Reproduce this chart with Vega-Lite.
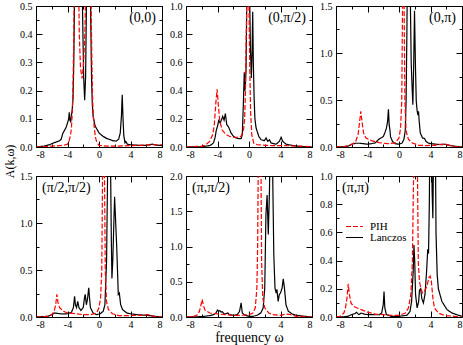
{
  "$schema": "https://vega.github.io/schema/vega-lite/v6.json",
  "background": "white",
  "padding": {"left": 2, "top": 0, "right": 1, "bottom": 0},
  "config": {
    "axis": {"domain": false, "grid": false, "tickColor": "#000", "labelColor": "#000", "labelFont": "Liberation Serif", "labelFontSize": 10, "titleFont": "Liberation Serif", "titleFontSize": 14, "titleFontWeight": "normal", "titleColor": "#000"},
    "axisX": {"labelPadding": 8},
    "axisY": {"labelPadding": 10},
    "view": {"stroke": "#000", "strokeWidth": 1},
    "title": {"font": "Liberation Serif", "fontSize": 14, "fontWeight": "normal", "color": "#000"},
    "legend": {"labelFont": "Liberation Serif", "labelFontSize": 11, "labelColor": "#000"}
  },
  "datasets": {
    "curves": [
      {"p":1,"s":"L","w":-8,"a":0},{"p":1,"s":"L","w":-7,"a":0.003},{"p":1,"s":"L","w":-6.3,"a":0.008},{"p":1,"s":"L","w":-5.9,"a":0.013},{"p":1,"s":"L","w":-5.4,"a":0.018},{"p":1,"s":"L","w":-5.0,"a":0.022},{"p":1,"s":"L","w":-4.8,"a":0.028},{"p":1,"s":"L","w":-4.6,"a":0.048},{"p":1,"s":"L","w":-4.4,"a":0.058},{"p":1,"s":"L","w":-4.2,"a":0.068},{"p":1,"s":"L","w":-4.0,"a":0.085},{"p":1,"s":"L","w":-3.85,"a":0.1},{"p":1,"s":"L","w":-3.78,"a":0.123},{"p":1,"s":"L","w":-3.7,"a":0.095},{"p":1,"s":"L","w":-3.6,"a":0.09},{"p":1,"s":"L","w":-3.5,"a":0.115},{"p":1,"s":"L","w":-3.42,"a":0.125},{"p":1,"s":"L","w":-3.3,"a":0.17},{"p":1,"s":"L","w":-3.2,"a":0.3},{"p":1,"s":"L","w":-3.1,"a":0.55},{"p":1,"s":"L","w":-2.9,"a":1.5},{"p":1,"s":"L","w":-2.6,"a":2.0},{"p":1,"s":"L","w":-2.3,"a":1.0},{"p":1,"s":"L","w":-2.1,"a":0.5},{"p":1,"s":"L","w":-1.95,"a":0.25},{"p":1,"s":"L","w":-1.82,"a":0.166},{"p":1,"s":"L","w":-1.7,"a":0.25},{"p":1,"s":"L","w":-1.6,"a":0.5},{"p":1,"s":"L","w":-1.45,"a":1.5},{"p":1,"s":"L","w":-1.3,"a":2.0},{"p":1,"s":"L","w":-1.15,"a":0.8},{"p":1,"s":"L","w":-1.05,"a":0.45},{"p":1,"s":"L","w":-0.95,"a":0.25},{"p":1,"s":"L","w":-0.85,"a":0.15},{"p":1,"s":"L","w":-0.75,"a":0.11},{"p":1,"s":"L","w":-0.5,"a":0.075},{"p":1,"s":"L","w":-0.3,"a":0.065},{"p":1,"s":"L","w":0,"a":0.05},{"p":1,"s":"L","w":0.5,"a":0.038},{"p":1,"s":"L","w":1.0,"a":0.03},{"p":1,"s":"L","w":1.4,"a":0.026},{"p":1,"s":"L","w":1.8,"a":0.022},{"p":1,"s":"L","w":2.2,"a":0.021},{"p":1,"s":"L","w":2.5,"a":0.028},{"p":1,"s":"L","w":2.7,"a":0.05},{"p":1,"s":"L","w":2.85,"a":0.11},{"p":1,"s":"L","w":2.95,"a":0.185},{"p":1,"s":"L","w":3.05,"a":0.1},{"p":1,"s":"L","w":3.15,"a":0.04},{"p":1,"s":"L","w":3.3,"a":0.015},{"p":1,"s":"L","w":3.4,"a":0.02},{"p":1,"s":"L","w":3.6,"a":0.01},{"p":1,"s":"L","w":4,"a":0.008},{"p":1,"s":"L","w":5,"a":0.006},{"p":1,"s":"L","w":6,"a":0.006},{"p":1,"s":"L","w":6.8,"a":0.01},{"p":1,"s":"L","w":7.2,"a":0.007},{"p":1,"s":"L","w":8,"a":0.005},
      {"p":1,"s":"P","w":-8,"a":0},{"p":1,"s":"P","w":-6,"a":0.003},{"p":1,"s":"P","w":-5,"a":0.005},{"p":1,"s":"P","w":-4.5,"a":0.006},{"p":1,"s":"P","w":-4,"a":0.01},{"p":1,"s":"P","w":-3.8,"a":0.02},{"p":1,"s":"P","w":-3.6,"a":0.045},{"p":1,"s":"P","w":-3.5,"a":0.068},{"p":1,"s":"P","w":-3.4,"a":0.12},{"p":1,"s":"P","w":-3.3,"a":0.22},{"p":1,"s":"P","w":-3.2,"a":0.4},{"p":1,"s":"P","w":-3.1,"a":0.7},{"p":1,"s":"P","w":-2.9,"a":1.5},{"p":1,"s":"P","w":-2.75,"a":1.2},{"p":1,"s":"P","w":-2.6,"a":0.6},{"p":1,"s":"P","w":-2.5,"a":0.4},{"p":1,"s":"P","w":-2.35,"a":0.28},{"p":1,"s":"P","w":-2.15,"a":0.243},{"p":1,"s":"P","w":-1.95,"a":0.3},{"p":1,"s":"P","w":-1.8,"a":0.4},{"p":1,"s":"P","w":-1.65,"a":0.6},{"p":1,"s":"P","w":-1.45,"a":1.2},{"p":1,"s":"P","w":-1.3,"a":1.5},{"p":1,"s":"P","w":-1.15,"a":0.9},{"p":1,"s":"P","w":-1.0,"a":0.5},{"p":1,"s":"P","w":-0.9,"a":0.3},{"p":1,"s":"P","w":-0.8,"a":0.16},{"p":1,"s":"P","w":-0.7,"a":0.1},{"p":1,"s":"P","w":-0.6,"a":0.068},{"p":1,"s":"P","w":-0.45,"a":0.035},{"p":1,"s":"P","w":-0.3,"a":0.018},{"p":1,"s":"P","w":0,"a":0.006},{"p":1,"s":"P","w":1,"a":0.003},{"p":1,"s":"P","w":2,"a":0.003},{"p":1,"s":"P","w":3,"a":0.004},{"p":1,"s":"P","w":4,"a":0.005},{"p":1,"s":"P","w":5,"a":0.006},{"p":1,"s":"P","w":6,"a":0.007},{"p":1,"s":"P","w":7,"a":0.008},{"p":1,"s":"P","w":8,"a":0.008},
      {"p":2,"s":"L","w":-8,"a":0},{"p":2,"s":"L","w":-6,"a":0.002},{"p":2,"s":"L","w":-5,"a":0.01},{"p":2,"s":"L","w":-4.7,"a":0.02},{"p":2,"s":"L","w":-4.5,"a":0.03},{"p":2,"s":"L","w":-4.3,"a":0.07},{"p":2,"s":"L","w":-4.15,"a":0.12},{"p":2,"s":"L","w":-4.0,"a":0.147},{"p":2,"s":"L","w":-3.85,"a":0.187},{"p":2,"s":"L","w":-3.65,"a":0.17},{"p":2,"s":"L","w":-3.45,"a":0.2},{"p":2,"s":"L","w":-3.34,"a":0.218},{"p":2,"s":"L","w":-3.17,"a":0.19},{"p":2,"s":"L","w":-3.0,"a":0.237},{"p":2,"s":"L","w":-2.83,"a":0.16},{"p":2,"s":"L","w":-2.58,"a":0.14},{"p":2,"s":"L","w":-2.28,"a":0.1},{"p":2,"s":"L","w":-1.98,"a":0.076},{"p":2,"s":"L","w":-1.64,"a":0.064},{"p":2,"s":"L","w":-1.3,"a":0.06},{"p":2,"s":"L","w":-1.0,"a":0.06},{"p":2,"s":"L","w":-0.85,"a":0.088},{"p":2,"s":"L","w":-0.72,"a":0.3},{"p":2,"s":"L","w":-0.67,"a":0.4},{"p":2,"s":"L","w":-0.6,"a":0.53},{"p":2,"s":"L","w":-0.52,"a":0.4},{"p":2,"s":"L","w":-0.45,"a":0.45},{"p":2,"s":"L","w":-0.37,"a":0.56},{"p":2,"s":"L","w":-0.25,"a":1.2},{"p":2,"s":"L","w":-0.1,"a":1.8},{"p":2,"s":"L","w":0.05,"a":1.2},{"p":2,"s":"L","w":0.18,"a":0.7},{"p":2,"s":"L","w":0.3,"a":0.49},{"p":2,"s":"L","w":0.4,"a":0.7},{"p":2,"s":"L","w":0.47,"a":0.96},{"p":2,"s":"L","w":0.55,"a":0.6},{"p":2,"s":"L","w":0.65,"a":0.35},{"p":2,"s":"L","w":0.75,"a":0.2},{"p":2,"s":"L","w":0.9,"a":0.135},{"p":2,"s":"L","w":1.24,"a":0.076},{"p":2,"s":"L","w":1.53,"a":0.052},{"p":2,"s":"L","w":1.96,"a":0.045},{"p":2,"s":"L","w":2.17,"a":0.064},{"p":2,"s":"L","w":2.38,"a":0.04},{"p":2,"s":"L","w":2.6,"a":0.052},{"p":2,"s":"L","w":2.8,"a":0.028},{"p":2,"s":"L","w":3.44,"a":0.02},{"p":2,"s":"L","w":3.86,"a":0.04},{"p":2,"s":"L","w":4.08,"a":0.069},{"p":2,"s":"L","w":4.29,"a":0.04},{"p":2,"s":"L","w":4.7,"a":0.02},{"p":2,"s":"L","w":5.56,"a":0.01},{"p":2,"s":"L","w":6.4,"a":0.005},{"p":2,"s":"L","w":8,"a":0},
      {"p":2,"s":"P","w":-8,"a":0},{"p":2,"s":"P","w":-6,"a":0.005},{"p":2,"s":"P","w":-5.5,"a":0.015},{"p":2,"s":"P","w":-5,"a":0.04},{"p":2,"s":"P","w":-4.6,"a":0.088},{"p":2,"s":"P","w":-4.4,"a":0.16},{"p":2,"s":"P","w":-4.2,"a":0.32},{"p":2,"s":"P","w":-4.05,"a":0.41},{"p":2,"s":"P","w":-3.9,"a":0.3},{"p":2,"s":"P","w":-3.7,"a":0.18},{"p":2,"s":"P","w":-3.4,"a":0.12},{"p":2,"s":"P","w":-3.0,"a":0.092},{"p":2,"s":"P","w":-2.5,"a":0.076},{"p":2,"s":"P","w":-2,"a":0.069},{"p":2,"s":"P","w":-1.5,"a":0.069},{"p":2,"s":"P","w":-1.0,"a":0.076},{"p":2,"s":"P","w":-0.7,"a":0.12},{"p":2,"s":"P","w":-0.55,"a":0.2},{"p":2,"s":"P","w":-0.45,"a":0.4},{"p":2,"s":"P","w":-0.35,"a":0.8},{"p":2,"s":"P","w":-0.2,"a":1.3},{"p":2,"s":"P","w":-0.1,"a":1.4},{"p":2,"s":"P","w":0.0,"a":1.0},{"p":2,"s":"P","w":0.1,"a":0.56},{"p":2,"s":"P","w":0.2,"a":0.25},{"p":2,"s":"P","w":0.35,"a":0.088},{"p":2,"s":"P","w":0.6,"a":0.028},{"p":2,"s":"P","w":1.0,"a":0.017},{"p":2,"s":"P","w":2,"a":0.012},{"p":2,"s":"P","w":3,"a":0.01},{"p":2,"s":"P","w":4,"a":0.01},{"p":2,"s":"P","w":5,"a":0.009},{"p":2,"s":"P","w":6,"a":0.007},{"p":2,"s":"P","w":7,"a":0.005},{"p":2,"s":"P","w":8,"a":0.003},
      {"p":3,"s":"L","w":-8,"a":0},{"p":3,"s":"L","w":-7,"a":0.003},{"p":3,"s":"L","w":-6.5,"a":0.008},{"p":3,"s":"L","w":-6,"a":0.03},{"p":3,"s":"L","w":-5.5,"a":0.04},{"p":3,"s":"L","w":-5,"a":0.04},{"p":3,"s":"L","w":-4.5,"a":0.035},{"p":3,"s":"L","w":-4,"a":0.03},{"p":3,"s":"L","w":-3.5,"a":0.035},{"p":3,"s":"L","w":-3,"a":0.045},{"p":3,"s":"L","w":-2.6,"a":0.08},{"p":3,"s":"L","w":-2.3,"a":0.095},{"p":3,"s":"L","w":-2.0,"a":0.11},{"p":3,"s":"L","w":-1.8,"a":0.15},{"p":3,"s":"L","w":-1.6,"a":0.2},{"p":3,"s":"L","w":-1.45,"a":0.27},{"p":3,"s":"L","w":-1.34,"a":0.4},{"p":3,"s":"L","w":-1.25,"a":0.24},{"p":3,"s":"L","w":-1.15,"a":0.18},{"p":3,"s":"L","w":-1.08,"a":0.11},{"p":3,"s":"L","w":-0.83,"a":0.06},{"p":3,"s":"L","w":-0.49,"a":0.035},{"p":3,"s":"L","w":-0.06,"a":0.03},{"p":3,"s":"L","w":0.36,"a":0.04},{"p":3,"s":"L","w":0.62,"a":0.08},{"p":3,"s":"L","w":0.79,"a":0.17},{"p":3,"s":"L","w":0.9,"a":0.49},{"p":3,"s":"L","w":1.0,"a":1.2},{"p":3,"s":"L","w":1.1,"a":2.2},{"p":3,"s":"L","w":1.25,"a":2.5},{"p":3,"s":"L","w":1.4,"a":1.8},{"p":3,"s":"L","w":1.55,"a":0.9},{"p":3,"s":"L","w":1.68,"a":0.6},{"p":3,"s":"L","w":1.76,"a":0.45},{"p":3,"s":"L","w":1.85,"a":0.8},{"p":3,"s":"L","w":1.97,"a":1.45},{"p":3,"s":"L","w":2.08,"a":0.9},{"p":3,"s":"L","w":2.19,"a":0.49},{"p":3,"s":"L","w":2.31,"a":0.38},{"p":3,"s":"L","w":2.4,"a":0.34},{"p":3,"s":"L","w":2.48,"a":0.38},{"p":3,"s":"L","w":2.55,"a":0.29},{"p":3,"s":"L","w":2.7,"a":0.15},{"p":3,"s":"L","w":2.99,"a":0.096},{"p":3,"s":"L","w":3.25,"a":0.09},{"p":3,"s":"L","w":3.42,"a":0.06},{"p":3,"s":"L","w":3.76,"a":0.04},{"p":3,"s":"L","w":4.6,"a":0.03},{"p":3,"s":"L","w":5.45,"a":0.025},{"p":3,"s":"L","w":5.88,"a":0.03},{"p":3,"s":"L","w":6.52,"a":0.015},{"p":3,"s":"L","w":7.15,"a":0.007},{"p":3,"s":"L","w":8,"a":0},
      {"p":3,"s":"P","w":-8,"a":0},{"p":3,"s":"P","w":-7,"a":0.005},{"p":3,"s":"P","w":-6.5,"a":0.012},{"p":3,"s":"P","w":-6,"a":0.025},{"p":3,"s":"P","w":-5.5,"a":0.06},{"p":3,"s":"P","w":-5.2,"a":0.13},{"p":3,"s":"P","w":-5.0,"a":0.27},{"p":3,"s":"P","w":-4.85,"a":0.38},{"p":3,"s":"P","w":-4.7,"a":0.27},{"p":3,"s":"P","w":-4.5,"a":0.15},{"p":3,"s":"P","w":-4.2,"a":0.096},{"p":3,"s":"P","w":-3.5,"a":0.068},{"p":3,"s":"P","w":-2.5,"a":0.046},{"p":3,"s":"P","w":-1.5,"a":0.035},{"p":3,"s":"P","w":-0.5,"a":0.043},{"p":3,"s":"P","w":0,"a":0.096},{"p":3,"s":"P","w":0.2,"a":0.2},{"p":3,"s":"P","w":0.35,"a":0.49},{"p":3,"s":"P","w":0.45,"a":1.5},{"p":3,"s":"P","w":0.55,"a":2.5},{"p":3,"s":"P","w":0.65,"a":1.5},{"p":3,"s":"P","w":0.75,"a":0.49},{"p":3,"s":"P","w":0.9,"a":0.17},{"p":3,"s":"P","w":1.2,"a":0.08},{"p":3,"s":"P","w":1.7,"a":0.043},{"p":3,"s":"P","w":2.5,"a":0.018},{"p":3,"s":"P","w":3.5,"a":0.015},{"p":3,"s":"P","w":4.5,"a":0.018},{"p":3,"s":"P","w":5.5,"a":0.03},{"p":3,"s":"P","w":6,"a":0.025},{"p":3,"s":"P","w":7,"a":0.007},{"p":3,"s":"P","w":8,"a":0},
      {"p":4,"s":"L","w":-8,"a":0},{"p":4,"s":"L","w":-6.5,"a":0.007},{"p":4,"s":"L","w":-6,"a":0.025},{"p":4,"s":"L","w":-5.6,"a":0.043},{"p":4,"s":"L","w":-5,"a":0.035},{"p":4,"s":"L","w":-4.5,"a":0.032},{"p":4,"s":"L","w":-4,"a":0.035},{"p":4,"s":"L","w":-3.5,"a":0.05},{"p":4,"s":"L","w":-3.25,"a":0.1},{"p":4,"s":"L","w":-3.1,"a":0.22},{"p":4,"s":"L","w":-3.0,"a":0.13},{"p":4,"s":"L","w":-2.85,"a":0.1},{"p":4,"s":"L","w":-2.7,"a":0.167},{"p":4,"s":"L","w":-2.55,"a":0.1},{"p":4,"s":"L","w":-2.3,"a":0.07},{"p":4,"s":"L","w":-2.0,"a":0.1},{"p":4,"s":"L","w":-1.85,"a":0.2},{"p":4,"s":"L","w":-1.75,"a":0.24},{"p":4,"s":"L","w":-1.6,"a":0.13},{"p":4,"s":"L","w":-1.45,"a":0.2},{"p":4,"s":"L","w":-1.3,"a":0.31},{"p":4,"s":"L","w":-1.2,"a":0.2},{"p":4,"s":"L","w":-1.09,"a":0.1},{"p":4,"s":"L","w":-0.75,"a":0.043},{"p":4,"s":"L","w":-0.32,"a":0.025},{"p":4,"s":"L","w":0.1,"a":0.032},{"p":4,"s":"L","w":0.53,"a":0.06},{"p":4,"s":"L","w":0.75,"a":0.13},{"p":4,"s":"L","w":0.96,"a":0.59},{"p":4,"s":"L","w":1.13,"a":1.8},{"p":4,"s":"L","w":1.3,"a":2.5},{"p":4,"s":"L","w":1.47,"a":1.6},{"p":4,"s":"L","w":1.57,"a":0.8},{"p":4,"s":"L","w":1.64,"a":0.41},{"p":4,"s":"L","w":1.75,"a":0.6},{"p":4,"s":"L","w":1.98,"a":1.28},{"p":4,"s":"L","w":2.24,"a":0.77},{"p":4,"s":"L","w":2.45,"a":0.24},{"p":4,"s":"L","w":2.58,"a":0.255},{"p":4,"s":"L","w":2.75,"a":0.13},{"p":4,"s":"L","w":3.0,"a":0.078},{"p":4,"s":"L","w":3.52,"a":0.043},{"p":4,"s":"L","w":3.95,"a":0.035},{"p":4,"s":"L","w":4.8,"a":0.025},{"p":4,"s":"L","w":6.08,"a":0.018},{"p":4,"s":"L","w":7.15,"a":0.007},{"p":4,"s":"L","w":8,"a":0},
      {"p":4,"s":"P","w":-8,"a":0},{"p":4,"s":"P","w":-6.5,"a":0.007},{"p":4,"s":"P","w":-6,"a":0.025},{"p":4,"s":"P","w":-5.7,"a":0.06},{"p":4,"s":"P","w":-5.5,"a":0.13},{"p":4,"s":"P","w":-5.35,"a":0.24},{"p":4,"s":"P","w":-5.2,"a":0.15},{"p":4,"s":"P","w":-5.0,"a":0.1},{"p":4,"s":"P","w":-4.5,"a":0.06},{"p":4,"s":"P","w":-4,"a":0.043},{"p":4,"s":"P","w":-3,"a":0.035},{"p":4,"s":"P","w":-2,"a":0.025},{"p":4,"s":"P","w":-1,"a":0.025},{"p":4,"s":"P","w":-0.3,"a":0.043},{"p":4,"s":"P","w":0,"a":0.1},{"p":4,"s":"P","w":0.2,"a":0.2},{"p":4,"s":"P","w":0.35,"a":0.49},{"p":4,"s":"P","w":0.45,"a":1.5},{"p":4,"s":"P","w":0.55,"a":2.5},{"p":4,"s":"P","w":0.7,"a":1.5},{"p":4,"s":"P","w":0.8,"a":0.49},{"p":4,"s":"P","w":0.95,"a":0.167},{"p":4,"s":"P","w":1.2,"a":0.078},{"p":4,"s":"P","w":1.7,"a":0.035},{"p":4,"s":"P","w":2.5,"a":0.014},{"p":4,"s":"P","w":3.5,"a":0.014},{"p":4,"s":"P","w":4.5,"a":0.018},{"p":4,"s":"P","w":5.5,"a":0.018},{"p":4,"s":"P","w":6.2,"a":0.025},{"p":4,"s":"P","w":7,"a":0.007},{"p":4,"s":"P","w":8,"a":0},
      {"p":5,"s":"L","w":-8,"a":0},{"p":5,"s":"L","w":-6,"a":0.005},{"p":5,"s":"L","w":-5,"a":0.019},{"p":5,"s":"L","w":-4.5,"a":0.033},{"p":5,"s":"L","w":-4.2,"a":0.057},{"p":5,"s":"L","w":-4.0,"a":0.1},{"p":5,"s":"L","w":-3.85,"a":0.08},{"p":5,"s":"L","w":-3.7,"a":0.09},{"p":5,"s":"L","w":-3.55,"a":0.07},{"p":5,"s":"L","w":-3.4,"a":0.075},{"p":5,"s":"L","w":-3.2,"a":0.05},{"p":5,"s":"L","w":-3.0,"a":0.043},{"p":5,"s":"L","w":-2.7,"a":0.057},{"p":5,"s":"L","w":-2.5,"a":0.033},{"p":5,"s":"L","w":-2,"a":0.024},{"p":5,"s":"L","w":-1.5,"a":0.033},{"p":5,"s":"L","w":-1.2,"a":0.08},{"p":5,"s":"L","w":-1.0,"a":0.2},{"p":5,"s":"L","w":-0.85,"a":0.057},{"p":5,"s":"L","w":-0.5,"a":0.024},{"p":5,"s":"L","w":0,"a":0.01},{"p":5,"s":"L","w":0.5,"a":0.01},{"p":5,"s":"L","w":1.0,"a":0.024},{"p":5,"s":"L","w":1.5,"a":0.057},{"p":5,"s":"L","w":1.8,"a":0.13},{"p":5,"s":"L","w":2.0,"a":0.41},{"p":5,"s":"L","w":2.15,"a":1.45},{"p":5,"s":"L","w":2.3,"a":1.73},{"p":5,"s":"L","w":2.45,"a":1.17},{"p":5,"s":"L","w":2.6,"a":1.8},{"p":5,"s":"L","w":2.75,"a":3.0},{"p":5,"s":"L","w":2.9,"a":2.5},{"p":5,"s":"L","w":3.0,"a":2.1},{"p":5,"s":"L","w":3.15,"a":0.88},{"p":5,"s":"L","w":3.3,"a":0.41},{"p":5,"s":"L","w":3.45,"a":0.34},{"p":5,"s":"L","w":3.55,"a":0.39},{"p":5,"s":"L","w":3.7,"a":0.22},{"p":5,"s":"L","w":3.85,"a":0.32},{"p":5,"s":"L","w":4.0,"a":0.34},{"p":5,"s":"L","w":4.2,"a":0.41},{"p":5,"s":"L","w":4.35,"a":0.54},{"p":5,"s":"L","w":4.5,"a":0.41},{"p":5,"s":"L","w":4.7,"a":0.17},{"p":5,"s":"L","w":5.0,"a":0.08},{"p":5,"s":"L","w":5.5,"a":0.043},{"p":5,"s":"L","w":6,"a":0.024},{"p":5,"s":"L","w":7,"a":0.01},{"p":5,"s":"L","w":8,"a":0},
      {"p":5,"s":"P","w":-8,"a":0},{"p":5,"s":"P","w":-7,"a":0.01},{"p":5,"s":"P","w":-6.5,"a":0.033},{"p":5,"s":"P","w":-6.3,"a":0.08},{"p":5,"s":"P","w":-6.1,"a":0.17},{"p":5,"s":"P","w":-5.95,"a":0.25},{"p":5,"s":"P","w":-5.8,"a":0.17},{"p":5,"s":"P","w":-5.6,"a":0.1},{"p":5,"s":"P","w":-5.0,"a":0.057},{"p":5,"s":"P","w":-4,"a":0.043},{"p":5,"s":"P","w":-3,"a":0.033},{"p":5,"s":"P","w":-2,"a":0.024},{"p":5,"s":"P","w":-1,"a":0.024},{"p":5,"s":"P","w":0,"a":0.033},{"p":5,"s":"P","w":0.5,"a":0.057},{"p":5,"s":"P","w":0.8,"a":0.13},{"p":5,"s":"P","w":1.0,"a":0.41},{"p":5,"s":"P","w":1.1,"a":1.03},{"p":5,"s":"P","w":1.2,"a":2.5},{"p":5,"s":"P","w":1.35,"a":4},{"p":5,"s":"P","w":1.5,"a":2.5},{"p":5,"s":"P","w":1.6,"a":0.79},{"p":5,"s":"P","w":1.75,"a":0.27},{"p":5,"s":"P","w":2.0,"a":0.13},{"p":5,"s":"P","w":2.5,"a":0.057},{"p":5,"s":"P","w":3,"a":0.033},{"p":5,"s":"P","w":4,"a":0.024},{"p":5,"s":"P","w":4.7,"a":0.043},{"p":5,"s":"P","w":5.3,"a":0.033},{"p":5,"s":"P","w":6,"a":0.01},{"p":5,"s":"P","w":8,"a":0},
      {"p":6,"s":"L","w":-8,"a":0},{"p":6,"s":"L","w":-7,"a":0.001},{"p":6,"s":"L","w":-6.5,"a":0.005},{"p":6,"s":"L","w":-6,"a":0.017},{"p":6,"s":"L","w":-5.6,"a":0.024},{"p":6,"s":"L","w":-5.4,"a":0.033},{"p":6,"s":"L","w":-5.1,"a":0.017},{"p":6,"s":"L","w":-4.8,"a":0.028},{"p":6,"s":"L","w":-4.4,"a":0.02},{"p":6,"s":"L","w":-4,"a":0.017},{"p":6,"s":"L","w":-3,"a":0.016},{"p":6,"s":"L","w":-2.5,"a":0.016},{"p":6,"s":"L","w":-2.2,"a":0.028},{"p":6,"s":"L","w":-2.0,"a":0.087},{"p":6,"s":"L","w":-1.9,"a":0.18},{"p":6,"s":"L","w":-1.8,"a":0.064},{"p":6,"s":"L","w":-1.6,"a":0.017},{"p":6,"s":"L","w":-1.0,"a":0.005},{"p":6,"s":"L","w":0,"a":0.005},{"p":6,"s":"L","w":1.0,"a":0.012},{"p":6,"s":"L","w":1.4,"a":0.04},{"p":6,"s":"L","w":1.6,"a":0.11},{"p":6,"s":"L","w":1.8,"a":0.32},{"p":6,"s":"L","w":1.9,"a":0.51},{"p":6,"s":"L","w":2.0,"a":0.39},{"p":6,"s":"L","w":2.1,"a":0.16},{"p":6,"s":"L","w":2.3,"a":0.064},{"p":6,"s":"L","w":2.5,"a":0.11},{"p":6,"s":"L","w":2.6,"a":0.19},{"p":6,"s":"L","w":2.75,"a":0.2},{"p":6,"s":"L","w":2.9,"a":0.13},{"p":6,"s":"L","w":3.1,"a":0.1},{"p":6,"s":"L","w":3.3,"a":0.16},{"p":6,"s":"L","w":3.5,"a":0.32},{"p":6,"s":"L","w":3.65,"a":0.48},{"p":6,"s":"L","w":3.75,"a":0.45},{"p":6,"s":"L","w":3.85,"a":0.8},{"p":6,"s":"L","w":3.95,"a":1.5},{"p":6,"s":"L","w":4.05,"a":2.0},{"p":6,"s":"L","w":4.2,"a":0.9},{"p":6,"s":"L","w":4.3,"a":0.7},{"p":6,"s":"L","w":4.45,"a":1.5},{"p":6,"s":"L","w":4.55,"a":1.8},{"p":6,"s":"L","w":4.7,"a":0.6},{"p":6,"s":"L","w":4.85,"a":0.3},{"p":6,"s":"L","w":5.0,"a":0.2},{"p":6,"s":"L","w":5.45,"a":0.11},{"p":6,"s":"L","w":6.1,"a":0.052},{"p":6,"s":"L","w":6.73,"a":0.028},{"p":6,"s":"L","w":7.58,"a":0.012},{"p":6,"s":"L","w":8,"a":0.005},
      {"p":6,"s":"P","w":-8,"a":0},{"p":6,"s":"P","w":-7.5,"a":0.005},{"p":6,"s":"P","w":-7,"a":0.028},{"p":6,"s":"P","w":-6.8,"a":0.064},{"p":6,"s":"P","w":-6.6,"a":0.135},{"p":6,"s":"P","w":-6.45,"a":0.236},{"p":6,"s":"P","w":-6.3,"a":0.16},{"p":6,"s":"P","w":-6.1,"a":0.1},{"p":6,"s":"P","w":-5.8,"a":0.076},{"p":6,"s":"P","w":-5.3,"a":0.064},{"p":6,"s":"P","w":-4.8,"a":0.052},{"p":6,"s":"P","w":-4,"a":0.035},{"p":6,"s":"P","w":-3,"a":0.021},{"p":6,"s":"P","w":-2,"a":0.017},{"p":6,"s":"P","w":-1,"a":0.012},{"p":6,"s":"P","w":0,"a":0.012},{"p":6,"s":"P","w":0.8,"a":0.028},{"p":6,"s":"P","w":1.2,"a":0.064},{"p":6,"s":"P","w":1.5,"a":0.16},{"p":6,"s":"P","w":1.7,"a":0.39},{"p":6,"s":"P","w":1.85,"a":1.0},{"p":6,"s":"P","w":2.0,"a":2.0},{"p":6,"s":"P","w":2.2,"a":2.0},{"p":6,"s":"P","w":2.35,"a":1.0},{"p":6,"s":"P","w":2.45,"a":0.39},{"p":6,"s":"P","w":2.6,"a":0.25},{"p":6,"s":"P","w":2.8,"a":0.2},{"p":6,"s":"P","w":3.0,"a":0.17},{"p":6,"s":"P","w":3.2,"a":0.18},{"p":6,"s":"P","w":3.4,"a":0.2},{"p":6,"s":"P","w":3.6,"a":0.23},{"p":6,"s":"P","w":3.8,"a":0.28},{"p":6,"s":"P","w":3.95,"a":0.29},{"p":6,"s":"P","w":4.1,"a":0.26},{"p":6,"s":"P","w":4.3,"a":0.135},{"p":6,"s":"P","w":4.5,"a":0.064},{"p":6,"s":"P","w":5.0,"a":0.028},{"p":6,"s":"P","w":5.5,"a":0.017},{"p":6,"s":"P","w":6,"a":0.01},{"p":6,"s":"P","w":7,"a":0.005},{"p":6,"s":"P","w":8,"a":0}
    ]
  },
  "bounds": "flush",
  "columns": 3,
  "spacing": {"row": 29, "column": 24},
  "resolve": {"legend": {"color": "independent", "strokeDash": "independent"}},
  "concat": [
    {
      "width": 126, "height": 141,
      "title": {"text": "(0,0)", "anchor": "end", "frame": "group", "orient": "top", "offset": -24, "dx": -6},
      "layer": [
        {"data": {"name": "curves"}, "transform": [{"filter": "datum.p == 1"}],
         "mark": {"type": "line", "clip": true, "strokeWidth": 1.2},
         "encoding": {
           "x": {"field": "w", "type": "quantitative", "scale": {"domain": [-8, 8], "nice": false}, "axis": {"orient": "bottom", "title": null, "values": [-8,-6,-4,-2,0,2,4,6,8], "labelExpr": "datum.value % 4 == 0 ? '' + datum.value : ''", "tickSize": {"condition": {"test": "datum.value % 4 == 0", "value": -6}, "value": -3}}},
           "y": {"field": "a", "type": "quantitative", "scale": {"domain": [0, 0.5], "nice": false}, "axis": {"orient": "left", "title": "A(k,ω)", "titleY": 155, "titleX": -20, "titleBaseline": "bottom", "titleAngle": -90, "titleFontSize": 12, "values": [0,0.05,0.1,0.15,0.2,0.25,0.3,0.35,0.4,0.45,0.5], "labelExpr": "abs(datum.value*10 - round(datum.value*10)) < 0.001 ? format(datum.value, '.1f') : ''", "tickSize": {"condition": {"test": "abs(datum.value*10 - round(datum.value*10)) < 0.001", "value": -6}, "value": -3}}},
           "color": {"field": "s", "type": "nominal", "scale": {"domain": ["P", "L"], "range": ["#ff0000", "#000000"]}, "legend": null},
           "strokeDash": {"field": "s", "type": "nominal", "scale": {"domain": ["P", "L"], "range": [[5, 2], [1, 0]]}, "legend": null}
         }},
        {"data": {"values": []}, "mark": "point",
         "encoding": {
           "x": {"field": "w", "type": "quantitative", "axis": {"orient": "top", "title": null, "labels": false, "values": [-8,-6,-4,-2,0,2,4,6,8], "tickSize": {"condition": {"test": "datum.value % 4 == 0", "value": -6}, "value": -3}}},
           "y": {"field": "a", "type": "quantitative", "axis": {"orient": "right", "title": null, "labels": false, "values": [0,0.05,0.1,0.15,0.2,0.25,0.3,0.35,0.4,0.45,0.5], "tickSize": {"condition": {"test": "abs(datum.value*10 - round(datum.value*10)) < 0.001", "value": -6}, "value": -3}}}
         }}
      ],
      "resolve": {"axis": {"x": "independent", "y": "independent"}}
    },
    {
      "width": 126, "height": 141,
      "title": {"text": "(0,π/2)", "anchor": "end", "frame": "group", "orient": "top", "offset": -24, "dx": -6},
      "layer": [
        {"data": {"name": "curves"}, "transform": [{"filter": "datum.p == 2"}],
         "mark": {"type": "line", "clip": true, "strokeWidth": 1.2},
         "encoding": {
           "x": {"field": "w", "type": "quantitative", "scale": {"domain": [-8, 8], "nice": false}, "axis": {"orient": "bottom", "title": null, "values": [-8,-6,-4,-2,0,2,4,6,8], "labelExpr": "datum.value % 4 == 0 ? '' + datum.value : ''", "tickSize": {"condition": {"test": "datum.value % 4 == 0", "value": -6}, "value": -3}}},
           "y": {"field": "a", "type": "quantitative", "scale": {"domain": [0, 1], "nice": false}, "axis": {"orient": "left", "title": null, "values": [0,0.1,0.2,0.3,0.4,0.5,0.6,0.7,0.8,0.9,1], "labelExpr": "abs(datum.value*5 - round(datum.value*5)) < 0.001 ? format(datum.value, '.1f') : ''", "tickSize": {"condition": {"test": "abs(datum.value*5 - round(datum.value*5)) < 0.001", "value": -6}, "value": -3}}},
           "color": {"field": "s", "type": "nominal", "scale": {"domain": ["P", "L"], "range": ["#ff0000", "#000000"]}, "legend": null},
           "strokeDash": {"field": "s", "type": "nominal", "scale": {"domain": ["P", "L"], "range": [[5, 2], [1, 0]]}, "legend": null}
         }},
        {"data": {"values": []}, "mark": "point",
         "encoding": {
           "x": {"field": "w", "type": "quantitative", "axis": {"orient": "top", "title": null, "labels": false, "values": [-8,-6,-4,-2,0,2,4,6,8], "tickSize": {"condition": {"test": "datum.value % 4 == 0", "value": -6}, "value": -3}}},
           "y": {"field": "a", "type": "quantitative", "axis": {"orient": "right", "title": null, "labels": false, "values": [0,0.1,0.2,0.3,0.4,0.5,0.6,0.7,0.8,0.9,1], "tickSize": {"condition": {"test": "abs(datum.value*5 - round(datum.value*5)) < 0.001", "value": -6}, "value": -3}}}
         }}
      ],
      "resolve": {"axis": {"x": "independent", "y": "independent"}}
    },
    {
      "width": 126, "height": 141,
      "title": {"text": "(0,π)", "anchor": "end", "frame": "group", "orient": "top", "offset": -24, "dx": -6},
      "layer": [
        {"data": {"name": "curves"}, "transform": [{"filter": "datum.p == 3"}],
         "mark": {"type": "line", "clip": true, "strokeWidth": 1.2},
         "encoding": {
           "x": {"field": "w", "type": "quantitative", "scale": {"domain": [-8, 8], "nice": false}, "axis": {"orient": "bottom", "title": null, "values": [-8,-6,-4,-2,0,2,4,6,8], "labelExpr": "datum.value % 4 == 0 ? '' + datum.value : ''", "tickSize": {"condition": {"test": "datum.value % 4 == 0", "value": -6}, "value": -3}}},
           "y": {"field": "a", "type": "quantitative", "scale": {"domain": [0, 1.5], "nice": false}, "axis": {"orient": "left", "title": null, "values": [0,0.25,0.5,0.75,1,1.25,1.5], "labelExpr": "abs(datum.value*2 - round(datum.value*2)) < 0.001 ? format(datum.value, '.1f') : ''", "tickSize": {"condition": {"test": "abs(datum.value*2 - round(datum.value*2)) < 0.001", "value": -6}, "value": -3}}},
           "color": {"field": "s", "type": "nominal", "scale": {"domain": ["P", "L"], "range": ["#ff0000", "#000000"]}, "legend": null},
           "strokeDash": {"field": "s", "type": "nominal", "scale": {"domain": ["P", "L"], "range": [[5, 2], [1, 0]]}, "legend": null}
         }},
        {"data": {"values": []}, "mark": "point",
         "encoding": {
           "x": {"field": "w", "type": "quantitative", "axis": {"orient": "top", "title": null, "labels": false, "values": [-8,-6,-4,-2,0,2,4,6,8], "tickSize": {"condition": {"test": "datum.value % 4 == 0", "value": -6}, "value": -3}}},
           "y": {"field": "a", "type": "quantitative", "axis": {"orient": "right", "title": null, "labels": false, "values": [0,0.25,0.5,0.75,1,1.25,1.5], "tickSize": {"condition": {"test": "abs(datum.value*2 - round(datum.value*2)) < 0.001", "value": -6}, "value": -3}}}
         }}
      ],
      "resolve": {"axis": {"x": "independent", "y": "independent"}}
    },
    {
      "width": 126, "height": 141,
      "title": {"text": "(π/2,π/2)", "anchor": "start", "frame": "group", "orient": "top", "offset": -24, "dx": 6},
      "layer": [
        {"data": {"name": "curves"}, "transform": [{"filter": "datum.p == 4"}],
         "mark": {"type": "line", "clip": true, "strokeWidth": 1.2},
         "encoding": {
           "x": {"field": "w", "type": "quantitative", "scale": {"domain": [-8, 8], "nice": false}, "axis": {"orient": "bottom", "title": null, "values": [-8,-6,-4,-2,0,2,4,6,8], "labelExpr": "datum.value % 4 == 0 ? '' + datum.value : ''", "tickSize": {"condition": {"test": "datum.value % 4 == 0", "value": -6}, "value": -3}}},
           "y": {"field": "a", "type": "quantitative", "scale": {"domain": [0, 1.5], "nice": false}, "axis": {"orient": "left", "title": null, "values": [0,0.25,0.5,0.75,1,1.25,1.5], "labelExpr": "abs(datum.value*2 - round(datum.value*2)) < 0.001 ? format(datum.value, '.1f') : ''", "tickSize": {"condition": {"test": "abs(datum.value*2 - round(datum.value*2)) < 0.001", "value": -6}, "value": -3}}},
           "color": {"field": "s", "type": "nominal", "scale": {"domain": ["P", "L"], "range": ["#ff0000", "#000000"]}, "legend": null},
           "strokeDash": {"field": "s", "type": "nominal", "scale": {"domain": ["P", "L"], "range": [[5, 2], [1, 0]]}, "legend": null}
         }},
        {"data": {"values": []}, "mark": "point",
         "encoding": {
           "x": {"field": "w", "type": "quantitative", "axis": {"orient": "top", "title": null, "labels": false, "values": [-8,-6,-4,-2,0,2,4,6,8], "tickSize": {"condition": {"test": "datum.value % 4 == 0", "value": -6}, "value": -3}}},
           "y": {"field": "a", "type": "quantitative", "axis": {"orient": "right", "title": null, "labels": false, "values": [0,0.25,0.5,0.75,1,1.25,1.5], "tickSize": {"condition": {"test": "abs(datum.value*2 - round(datum.value*2)) < 0.001", "value": -6}, "value": -3}}}
         }}
      ],
      "resolve": {"axis": {"x": "independent", "y": "independent"}}
    },
    {
      "width": 126, "height": 141,
      "title": {"text": "(π,π/2)", "anchor": "start", "frame": "group", "orient": "top", "offset": -24, "dx": 6},
      "layer": [
        {"data": {"name": "curves"}, "transform": [{"filter": "datum.p == 5"}],
         "mark": {"type": "line", "clip": true, "strokeWidth": 1.2},
         "encoding": {
           "x": {"field": "w", "type": "quantitative", "scale": {"domain": [-8, 8], "nice": false}, "axis": {"orient": "bottom", "title": "frequency ω", "titlePadding": 1, "values": [-8,-6,-4,-2,0,2,4,6,8], "labelExpr": "datum.value % 4 == 0 ? '' + datum.value : ''", "tickSize": {"condition": {"test": "datum.value % 4 == 0", "value": -6}, "value": -3}}},
           "y": {"field": "a", "type": "quantitative", "scale": {"domain": [0, 2], "nice": false}, "axis": {"orient": "left", "title": null, "values": [0,0.25,0.5,0.75,1,1.25,1.5,1.75,2], "labelExpr": "abs(datum.value*2 - round(datum.value*2)) < 0.001 ? format(datum.value, '.1f') : ''", "tickSize": {"condition": {"test": "abs(datum.value*2 - round(datum.value*2)) < 0.001", "value": -6}, "value": -3}}},
           "color": {"field": "s", "type": "nominal", "scale": {"domain": ["P", "L"], "range": ["#ff0000", "#000000"]}, "legend": null},
           "strokeDash": {"field": "s", "type": "nominal", "scale": {"domain": ["P", "L"], "range": [[5, 2], [1, 0]]}, "legend": null}
         }},
        {"data": {"values": []}, "mark": "point",
         "encoding": {
           "x": {"field": "w", "type": "quantitative", "axis": {"orient": "top", "title": null, "labels": false, "values": [-8,-6,-4,-2,0,2,4,6,8], "tickSize": {"condition": {"test": "datum.value % 4 == 0", "value": -6}, "value": -3}}},
           "y": {"field": "a", "type": "quantitative", "axis": {"orient": "right", "title": null, "labels": false, "values": [0,0.25,0.5,0.75,1,1.25,1.5,1.75,2], "tickSize": {"condition": {"test": "abs(datum.value*2 - round(datum.value*2)) < 0.001", "value": -6}, "value": -3}}}
         }}
      ],
      "resolve": {"axis": {"x": "independent", "y": "independent"}}
    },
    {
      "width": 126, "height": 141,
      "title": {"text": "(π,π)", "anchor": "start", "frame": "group", "orient": "top", "offset": -24, "dx": 6},
      "layer": [
        {"data": {"name": "curves"}, "transform": [{"filter": "datum.p == 6"}],
         "mark": {"type": "line", "clip": true, "strokeWidth": 1.2},
         "encoding": {
           "x": {"field": "w", "type": "quantitative", "scale": {"domain": [-8, 8], "nice": false}, "axis": {"orient": "bottom", "title": null, "values": [-8,-6,-4,-2,0,2,4,6,8], "labelExpr": "datum.value % 4 == 0 ? '' + datum.value : ''", "tickSize": {"condition": {"test": "datum.value % 4 == 0", "value": -6}, "value": -3}}},
           "y": {"field": "a", "type": "quantitative", "scale": {"domain": [0, 1], "nice": false}, "axis": {"orient": "left", "title": null, "values": [0,0.1,0.2,0.3,0.4,0.5,0.6,0.7,0.8,0.9,1], "labelExpr": "abs(datum.value*5 - round(datum.value*5)) < 0.001 ? format(datum.value, '.1f') : ''", "tickSize": {"condition": {"test": "abs(datum.value*5 - round(datum.value*5)) < 0.001", "value": -6}, "value": -3}}},
           "color": {"field": "s", "type": "nominal", "scale": {"domain": ["P", "L"], "range": ["#ff0000", "#000000"]}, "legend": {"orient": "none", "legendX": 9, "legendY": 45, "title": null, "symbolType": "stroke", "symbolSize": 289, "symbolStrokeWidth": 1.2, "labelOffset": 6, "rowPadding": -3, "clipHeight": 11, "labelExpr": "datum.label == 'P' ? 'PIH' : 'Lanczos'", "encode": {"symbols": {"update": {"stroke": {"signal": "datum.value === 'P' ? '#ff0000' : '#000000'"}, "strokeDash": {"signal": "datum.value === 'P' ? [5, 2] : [1, 0]"}}}}}},
           "strokeDash": {"field": "s", "type": "nominal", "scale": {"domain": ["P", "L"], "range": [[5, 2], [1, 0]]}, "legend": null}
         }},
        {"data": {"values": []}, "mark": "point",
         "encoding": {
           "x": {"field": "w", "type": "quantitative", "axis": {"orient": "top", "title": null, "labels": false, "values": [-8,-6,-4,-2,0,2,4,6,8], "tickSize": {"condition": {"test": "datum.value % 4 == 0", "value": -6}, "value": -3}}},
           "y": {"field": "a", "type": "quantitative", "axis": {"orient": "right", "title": null, "labels": false, "values": [0,0.1,0.2,0.3,0.4,0.5,0.6,0.7,0.8,0.9,1], "tickSize": {"condition": {"test": "abs(datum.value*5 - round(datum.value*5)) < 0.001", "value": -6}, "value": -3}}}
         }}
      ],
      "resolve": {"axis": {"x": "independent", "y": "independent"}}
    }
  ]
}
